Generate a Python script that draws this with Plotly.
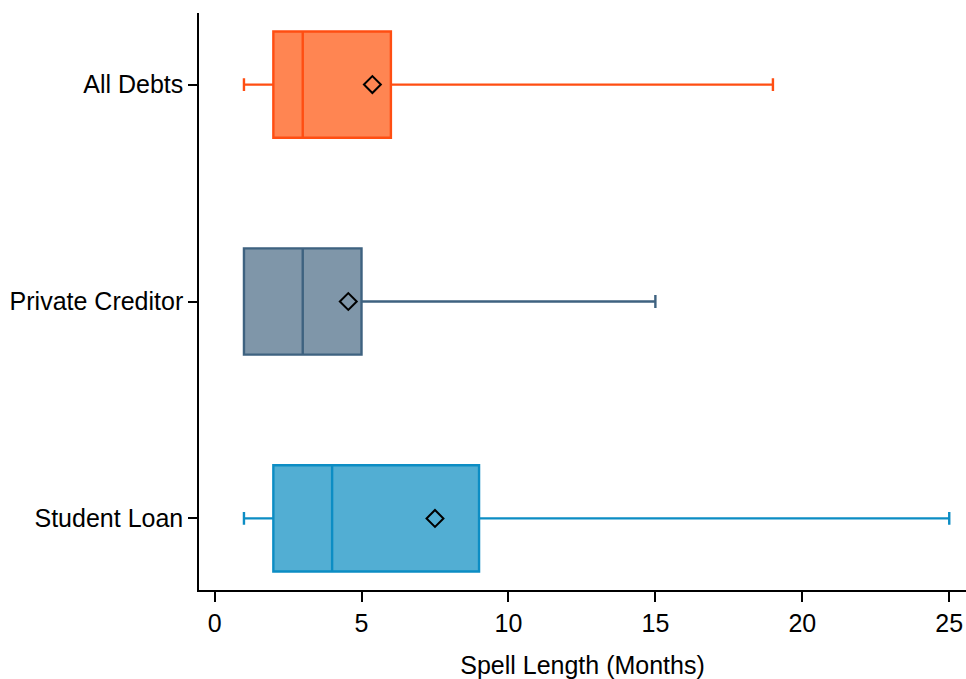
import plotly.graph_objects as go

categories = ["Student Loan", "Private Creditor", "All Debts"]
lower_whisker = [1, 1, 1]
q1_values = [2, 1, 2]
median_values = [4, 3, 3]
q3_values = [9, 5, 6]
upper_whisker = [25, 15, 19]
mean_values = [7.5, 4.55, 5.37]

fill_colors = ["rgb(82,174,211)", "rgb(127,150,169)", "rgb(255,133,82)"]
line_colors = ["rgb(12,141,196)", "rgb(62,98,128)", "rgb(255,78,18)"]

x_ticks = [0, 5, 10, 15, 20, 25]
x_title = "Spell Length (Months)"

fig = go.Figure()
for i, cat in enumerate(categories):
    fig.add_trace(go.Box(
        y=[cat], orientation="h",
        lowerfence=[lower_whisker[i]], q1=[q1_values[i]], median=[median_values[i]],
        q3=[q3_values[i]], upperfence=[upper_whisker[i]],
        fillcolor=fill_colors[i],
        line=dict(color=line_colors[i], width=2.4),
        width=0.49, whiskerwidth=0.12, boxpoints=False,
        showlegend=False, hoverinfo="skip",
    ))

fig.add_trace(go.Scatter(
    x=mean_values, y=categories, mode="markers",
    marker=dict(symbol="diamond-open", size=13, color="black", line=dict(width=2, color="black")),
    showlegend=False,
))

font = "Liberation Sans, Arial, sans-serif"
fig.update_layout(
    width=966, height=679,
    margin=dict(l=199, r=0, t=13, b=89),
    paper_bgcolor="white", plot_bgcolor="white",
    font=dict(family=font, size=25, color="black"),
)
fig.update_xaxes(
    range=[-0.53, 25.57], tickvals=x_ticks, ticks="outside", ticklen=10,
    tickwidth=1.5, tickcolor="black",
    showline=True, linecolor="black", linewidth=1.5,
    showgrid=False, zeroline=False,
    title=dict(text=x_title, standoff=24, font=dict(size=25)),
    tickfont=dict(size=25),
)
fig.update_yaxes(
    type="category", categoryorder="array", categoryarray=categories,
    range=[-0.33, 2.33], ticks="outside", ticklen=9, tickwidth=1.5, tickcolor="black",
    showline=True, linecolor="black", linewidth=1.5,
    showgrid=False, zeroline=False, tickfont=dict(size=25),
)

fig.write_html(
    "out.html",
    config={"displayModeBar": False},
    post_script="document.body.style.margin='0';document.body.style.overflow='hidden';",
)
